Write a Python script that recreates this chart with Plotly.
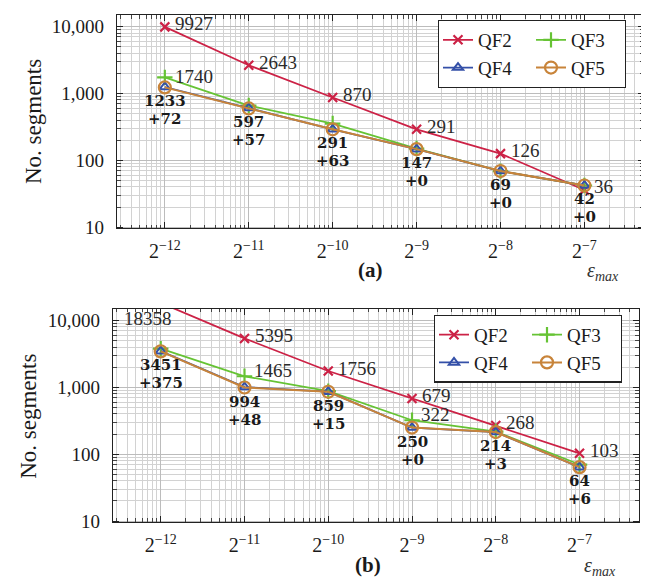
import math
import plotly.graph_objects as go

# ---------------- data ----------------
eps_exp = [-12, -11, -10, -9, -8, -7]
eps = [2.0 ** e for e in eps_exp]
tick_text = ["2<sup>\u221212</sup>", "2<sup>\u221211</sup>", "2<sup>\u221210</sup>",
             "2<sup>\u22129</sup>", "2<sup>\u22128</sup>", "2<sup>\u22127</sup>"]
series_names = ["QF2", "QF3", "QF4", "QF5"]

a_qf2 = [9927, 2643, 870, 291, 126, 36]
a_qf3 = [1740, 660, 355, 150, 69, 42]
a_qf4 = [1250, 605, 291, 147, 69, 42]
a_qf5 = [1233, 597, 291, 147, 69, 42]
a_extra = [72, 57, 63, 0, 0, 0]
a_qf3_labeled = [0]

b_qf2 = [18358, 5395, 1756, 679, 268, 103]
b_qf3 = [3800, 1465, 875, 322, 218, 70]
b_qf4 = [3480, 1010, 862, 250, 214, 64]
b_qf5 = [3451, 994, 859, 250, 214, 64]
b_extra = [375, 48, 15, 0, 3, 6]
b_qf3_labeled = [1, 3]

y_ticks = [10, 100, 1000, 10000]
y_tick_text = ["10", "100", "1,000", "10,000"]

# ---------------- style ----------------
FONT = "Liberation Serif"
BOLD_FONT = "DejaVu Serif"
C_QF2 = "#cc2246"
C_QF3 = "#66c334"
C_QF4 = "#3450a8"
C_QF5 = "#c8843a"
W, H = 649, 582

fig = go.Figure()

def add_series(vals, xa, ya, legend):
    q2, q3, q4, q5 = vals
    g1 = legend + "g1"
    g2 = legend + "g2"
    fig.add_trace(go.Scatter(x=eps, y=q2, name=series_names[0], mode="lines+markers", xaxis=xa, yaxis=ya,
                             legend=legend, legendgroup=g1,
                             line=dict(color=C_QF2, width=1.8),
                             marker=dict(symbol="x-thin", size=9, line=dict(color=C_QF2, width=2.2))))
    fig.add_trace(go.Scatter(x=eps, y=q3, name=series_names[1], mode="lines+markers", xaxis=xa, yaxis=ya,
                             legend=legend, legendgroup=g2,
                             line=dict(color=C_QF3, width=1.8),
                             marker=dict(symbol="cross-thin", size=11, line=dict(color=C_QF3, width=2.2))))
    fig.add_trace(go.Scatter(x=eps, y=q4, name=series_names[2], mode="lines+markers", xaxis=xa, yaxis=ya,
                             legend=legend, legendgroup=g1,
                             line=dict(color=C_QF4, width=1.8),
                             marker=dict(symbol="triangle-up-open", size=9, color=C_QF4,
                                         line=dict(color=C_QF4, width=2))))
    fig.add_trace(go.Scatter(x=eps, y=q5, name=series_names[3], mode="lines+markers", xaxis=xa, yaxis=ya,
                             legend=legend, legendgroup=g2,
                             line=dict(color=C_QF5, width=2),
                             marker=dict(symbol="circle-open", size=12, color=C_QF5,
                                         line=dict(color=C_QF5, width=2.2))))

add_series([a_qf2, a_qf3, a_qf4, a_qf5], "x", "y", "legend")
add_series([b_qf2, b_qf3, b_qf4, b_qf5], "x2", "y2", "legend2")

# axes
x_lo = math.log10(2.0 ** -12.57)
x_hi = math.log10(2.0 ** -6.29)
x_minor = [2.0 ** (n + math.log10(k)) for n in range(-13, -6) for k in range(2, 10)]
y_minor = [k * 10 ** n for n in range(0, 5) for k in range(2, 10)]

def xaxis(domain, anchor):
    return dict(type="log", domain=domain, anchor=anchor, range=[x_lo, x_hi],
                tickmode="array", tickvals=eps, ticktext=tick_text,
                ticks="inside", ticklen=6, tickwidth=1, tickcolor="#222",
                mirror="allticks", showline=True, linecolor="#222", linewidth=1.3,
                showgrid=True, gridcolor="#bcbcbc", gridwidth=1.3, zeroline=False,
                ticklabelstandoff=5,
                minor=dict(tickmode="array", tickvals=x_minor, ticks="inside", ticklen=3.5,
                           tickcolor="#444", showgrid=True, gridcolor="#d2d2d2", gridwidth=0.9),
                tickfont=dict(family=FONT, size=20, color="#1a1a1a"))

def yaxis(domain, anchor):
    return dict(type="log", domain=domain, anchor=anchor, range=[0.985, 4.176],
                tickmode="array", tickvals=y_ticks, ticktext=y_tick_text,
                ticks="inside", ticklen=6, tickwidth=1, tickcolor="#222",
                mirror="allticks", showline=True, linecolor="#222", linewidth=1.3,
                showgrid=True, gridcolor="#bcbcbc", gridwidth=1.3, zeroline=False,
                ticklabelstandoff=8,
                minor=dict(tickmode="array", tickvals=y_minor, ticks="inside", ticklen=3.5,
                           tickcolor="#444", showgrid=True, gridcolor="#d2d2d2", gridwidth=0.9),
                tickfont=dict(family=FONT, size=19, color="#1a1a1a"))

fig.update_layout(
    xaxis=xaxis([109 / W, 636 / W], "y"),
    yaxis=yaxis([1 - 224 / H, 1 - 7 / H], "x"),
    xaxis2=xaxis([105 / W, 631 / W], "y2"),
    yaxis2=yaxis([1 - 523 / H, 1 - 306 / H], "x2"),
)

leg_common = dict(orientation="h", traceorder="grouped", xanchor="left", yanchor="top",
                  bgcolor="white", bordercolor="#222", borderwidth=1.2,
                  font=dict(family=FONT, size=19, color="#1a1a1a"), itemwidth=30,
                  entrywidth=48, entrywidthmode="pixels", tracegroupgap=0)
fig.update_layout(
    legend=dict(x=430 / W, y=1 - 12 / H, **leg_common),
    legend2=dict(x=426 / W, y=1 - 312 / H, **leg_common),
)

ann = []
num_font = dict(family=FONT, size=19, color="#2a2a2a")
bold_font = dict(family=BOLD_FONT, size=15, color="#1a1a1a")

def side_label(xref, yref, i, v, xs=8, ys=3):
    ann.append(dict(xref=xref, yref=yref, x=math.log10(eps[i]), y=math.log10(v), text=str(v),
                    xanchor="left", yanchor="middle", xshift=xs, yshift=ys,
                    showarrow=False, font=num_font))

def bold_labels(xref, yref, vals, extras):
    for i, (v, e) in enumerate(zip(vals, extras)):
        ann.append(dict(xref=xref, yref=yref, x=math.log10(eps[i]), y=math.log10(v),
                        text="<b>%d</b>" % v, xanchor="center", yanchor="middle",
                        yshift=-14, showarrow=False, font=bold_font))
        ann.append(dict(xref=xref, yref=yref, x=math.log10(eps[i]), y=math.log10(v),
                        text="<b>+%d</b>" % e, xanchor="center", yanchor="middle",
                        yshift=-32, showarrow=False, font=bold_font))

# top panel
for i, v in enumerate(a_qf2):
    side_label("x", "y", i, v)
for i in a_qf3_labeled:
    side_label("x", "y", i, a_qf3[i], xs=8, ys=1)
bold_labels("x", "y", a_qf5, a_extra)

# bottom panel
for i, v in enumerate(b_qf2):
    if i == 0:
        # value lies above the axis range: label sits just inside the top edge
        ann.append(dict(xref="x2", yref="y2 domain", x=math.log10(eps[i]), y=1, text=str(v),
                        xanchor="center", yanchor="middle", xshift=-13, yshift=-10,
                        showarrow=False, font=num_font))
    else:
        side_label("x2", "y2", i, v)
for i in b_qf3_labeled:
    side_label("x2", "y2", i, b_qf3[i], xs=7, ys=6)
bold_labels("x2", "y2", b_qf5, b_extra)

# panel captions and titles
for (cx, cy, t) in [(363, 267, "<b>(a)</b>"), (360, 567, "<b>(b)</b>")]:
    ann.append(dict(xref="paper", yref="paper", x=cx / W, y=1 - cy / H, text=t,
                    xanchor="center", yanchor="middle", showarrow=False,
                    font=dict(family=FONT, size=21, color="#1a1a1a")))
for (cx, cy) in [(595, 268), (592, 568)]:
    ann.append(dict(xref="paper", yref="paper", x=cx / W, y=1 - cy / H,
                    text="<i>\u03b5</i><sub><i>max</i></sub>",
                    xanchor="center", yanchor="middle", showarrow=False,
                    font=dict(family=FONT, size=20, color="#333")))
for (cx, cy) in [(25, 116), (21, 416)]:
    ann.append(dict(xref="paper", yref="paper", x=cx / W, y=1 - cy / H, text="No. segments",
                    textangle=-90, xanchor="center", yanchor="middle", showarrow=False,
                    font=dict(family=FONT, size=23, color="#1a1a1a")))

fig.update_layout(annotations=ann, width=W, height=H,
                  margin=dict(l=0, r=0, t=0, b=0),
                  paper_bgcolor="white", plot_bgcolor="white", showlegend=True)

fig.write_html("out.html", config={"displayModeBar": False})
